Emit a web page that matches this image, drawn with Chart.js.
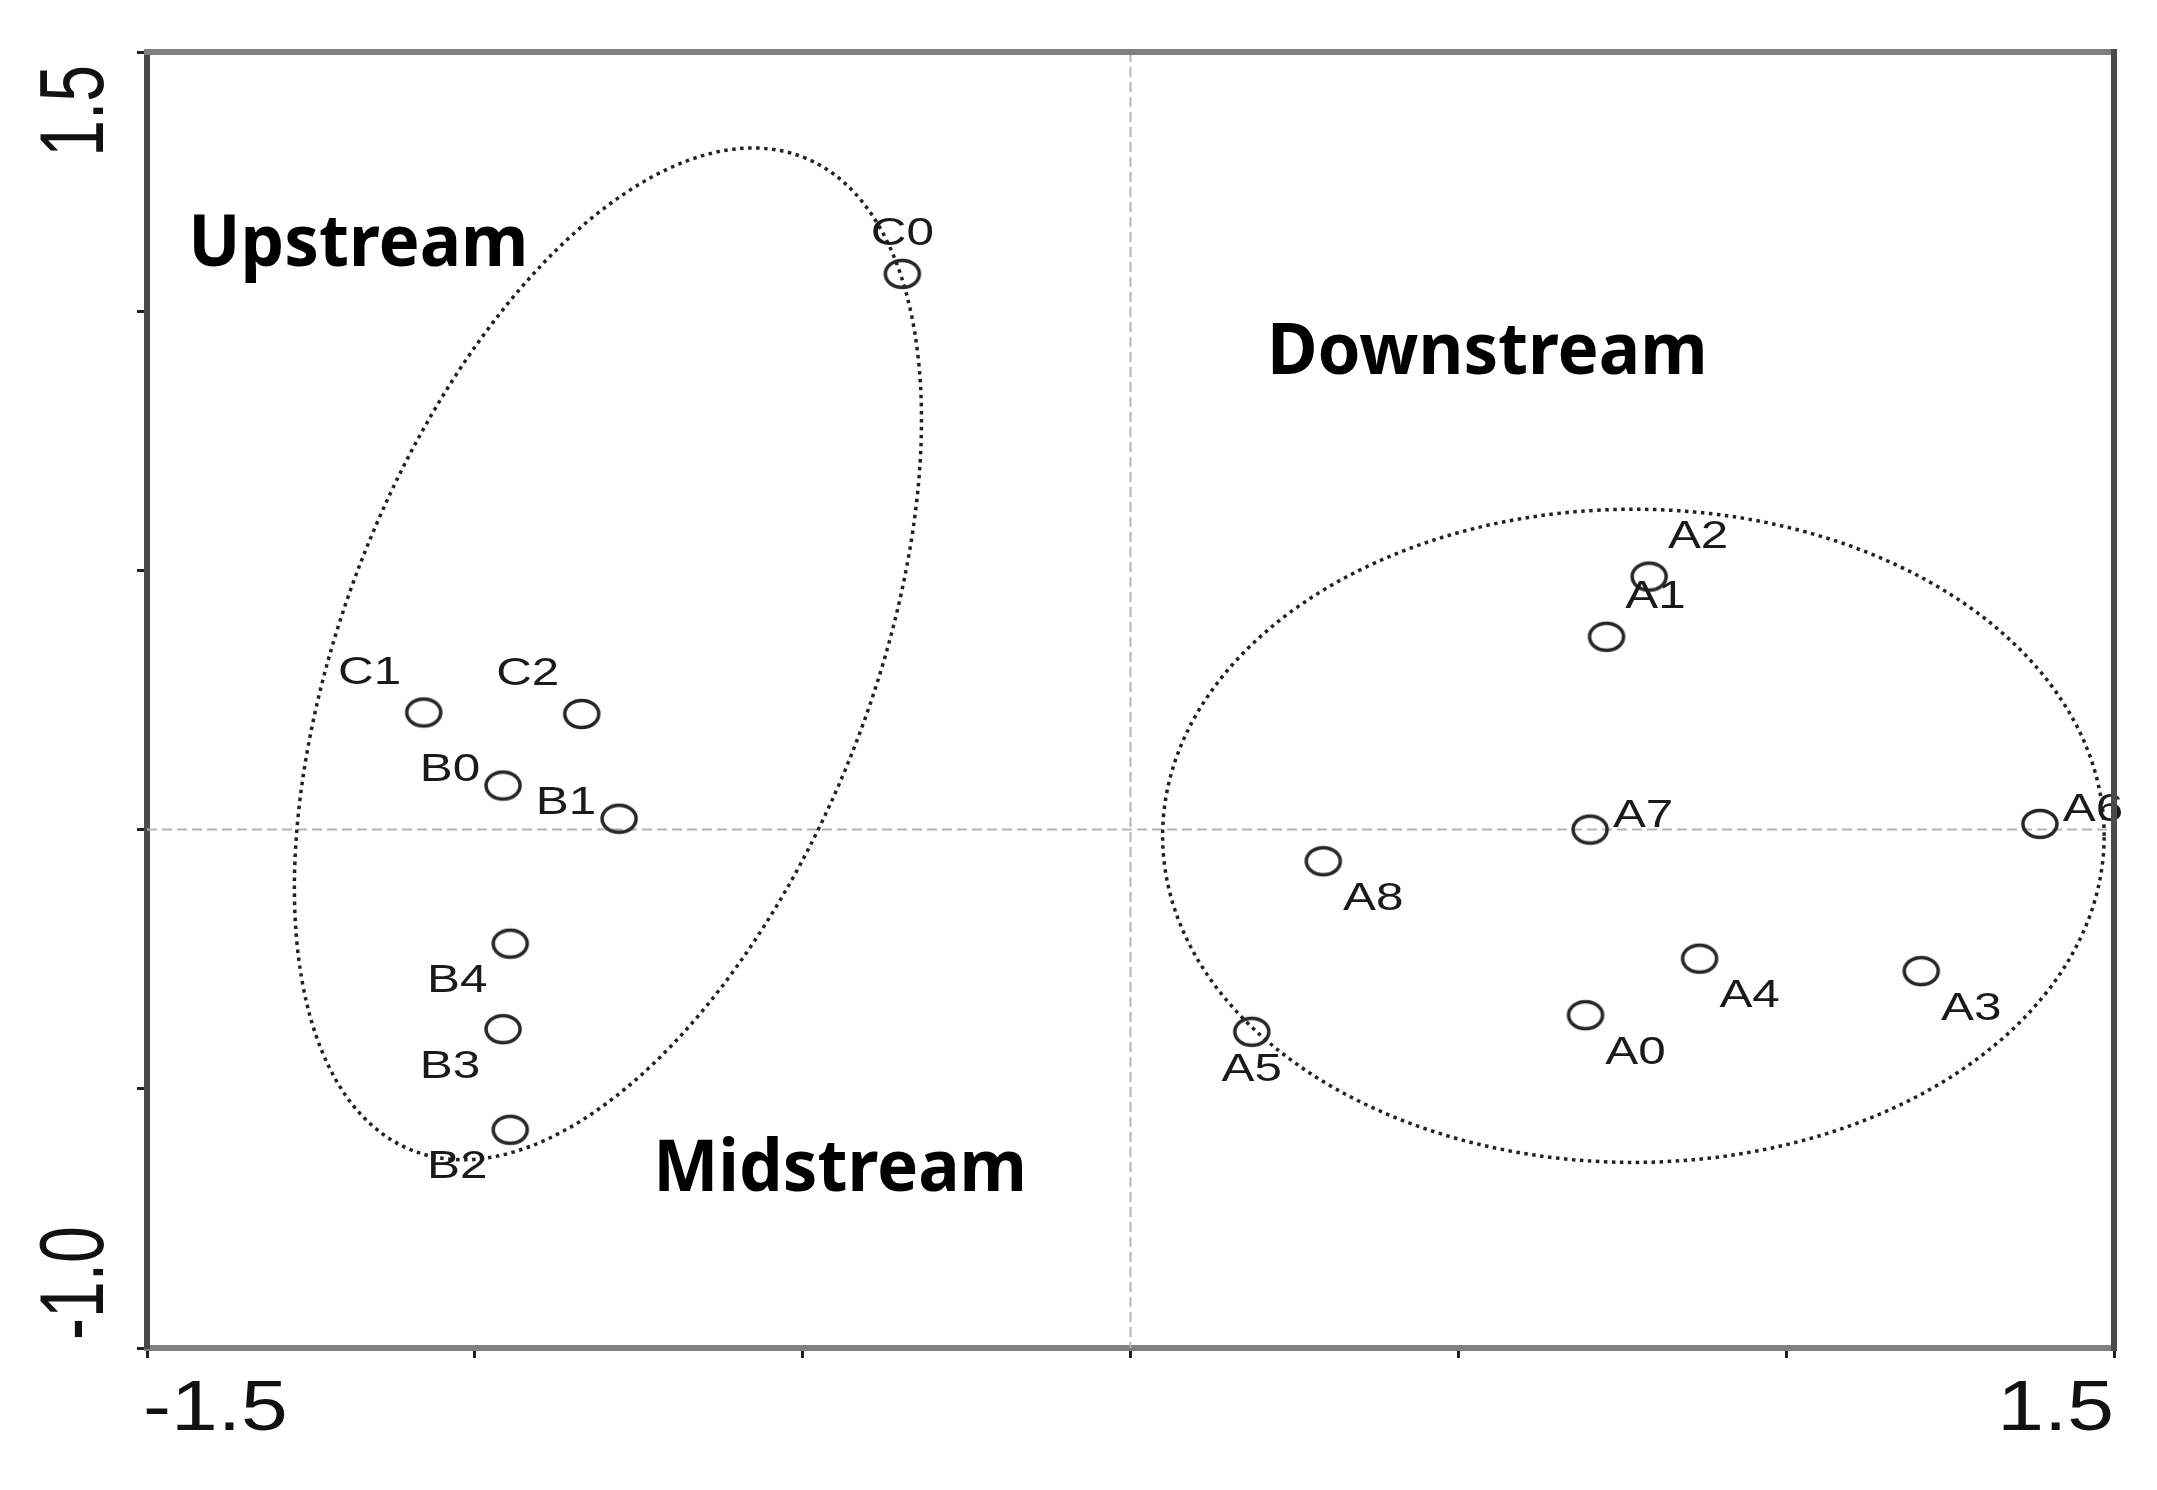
<!DOCTYPE html>
<html>
<head>
<meta charset="utf-8">
<script src="https://cdn.jsdelivr.net/npm/chart.js@4.4.1/dist/chart.umd.min.js"></script>
<style>
    html, body { margin: 0; padding: 0; background: #ffffff; }
</style>
</head>
<body>
<canvas id="ordinationChart" width="2157" height="1490"></canvas>
<script>
// site scores on the two ordination axes
const siteNames = ['C0', 'C1', 'C2', 'B0', 'B1', 'B4', 'B3', 'B2', 'A2', 'A1', 'A7', 'A6', 'A8', 'A4', 'A3', 'A0', 'A5'];
const axis1 = [-0.348, -1.078, -0.837, -0.957, -0.780, -0.946, -0.957, -0.946, 0.791, 0.726, 0.701, 1.387, 0.294, 0.868, 1.206, 0.694, 0.185];
const axis2 = [1.072, 0.226, 0.223, 0.085, 0.021, -0.220, -0.385, -0.579, 0.488, 0.372, 0.000, 0.011, -0.061, -0.249, -0.273, -0.358, -0.390];

// region titles
const regionNames = ['Upstream', 'Downstream', 'Midstream'];
const regionX = [-1.437, 0.208, -0.728];
const regionY = [1.088, 0.878, -0.698];

// group ellipses: centre and two conjugate semi-diameters, in axis units
const ellipseCenterX = [-0.797, 0.767];
const ellipseCenterY = [0.339, -0.012];
const ellipseU = [[0.298, 0.958], [0.718, 0.0]];
const ellipseV = [[0.374, -0.186], [0.0, 0.630]];

const xTickLabels = [-1.5, 1.5];
const yTickLabels = [1.5, -1.0];

// where each site label sits around its marker
const labelSide = ['N', 'NW', 'NW', 'W', 'W', 'SW', 'SW', 'SW', 'NE', 'NE', 'E', 'E', 'SE', 'SE', 'SE', 'SE', 'S'];
const sideOffset = {
    N: [0, -39], S: [0, 39],
    NW: [-54, -39], W: [-53, -15], SW: [-53, 38],
    NE: [49, -39], E: [53, -13], SE: [50, 38]
};

// open ring marker, a bit wider than tall like the original
const ring = document.createElement('canvas');
ring.width = 42;
ring.height = 34;
(function () {
    const c = ring.getContext('2d');
    c.strokeStyle = '#262626';
    c.lineWidth = 3.5;
    c.beginPath();
    c.ellipse(21, 17, 17, 13.5, 0, 0, Math.PI * 2);
    c.stroke();
})();

function stretchedText(ctx, text, px, py, opts) {
    ctx.save();
    ctx.translate(px, py);
    if (opts.rotate) ctx.rotate(opts.rotate);
    ctx.scale(opts.sx || 1, opts.sy || 1);
    ctx.font = opts.font;
    ctx.fillStyle = opts.color || '#111';
    ctx.textAlign = opts.align || 'center';
    ctx.textBaseline = opts.baseline || 'middle';
    ctx.fillText(text, 0, 0);
    ctx.restore();
}

const overlay = {
    id: 'overlay',
    beforeDatasetsDraw(chart) {
        const { ctx, chartArea: a, scales: { x, y } } = chart;
        ctx.save();

        // dashed zero lines
        const x0 = x.getPixelForValue(0);
        const y0 = y.getPixelForValue(0);
        ctx.strokeStyle = '#b4b4b4';
        ctx.lineWidth = 2;
        ctx.setLineDash([10, 5]);
        ctx.beginPath();
        ctx.moveTo(x0, a.top);
        ctx.lineTo(x0, a.bottom);
        ctx.moveTo(a.left, y0);
        ctx.lineTo(a.right, y0);
        ctx.stroke();

        // dotted group ellipses
        ctx.strokeStyle = '#222';
        ctx.lineWidth = 3.5;
        ctx.setLineDash([3.5, 4.5]);
        for (let i = 0; i < ellipseCenterX.length; i++) {
            const cx = x.getPixelForValue(ellipseCenterX[i]);
            const cy = y.getPixelForValue(ellipseCenterY[i]);
            const ux = x.getPixelForValue(ellipseCenterX[i] + ellipseU[i][0]) - cx;
            const uy = y.getPixelForValue(ellipseCenterY[i] + ellipseU[i][1]) - cy;
            const vx = x.getPixelForValue(ellipseCenterX[i] + ellipseV[i][0]) - cx;
            const vy = y.getPixelForValue(ellipseCenterY[i] + ellipseV[i][1]) - cy;
            ctx.save();
            ctx.transform(ux, uy, vx, vy, cx, cy);
            ctx.beginPath();
            ctx.arc(0, 0, 1, 0, Math.PI * 2);
            ctx.restore();
            ctx.stroke();
        }
        ctx.restore();
    },
    afterDatasetsDraw(chart) {
        const { ctx, scales: { x, y } } = chart;

        siteNames.forEach((name, i) => {
            const off = sideOffset[labelSide[i]];
            stretchedText(ctx, name, x.getPixelForValue(axis1[i]) + off[0], y.getPixelForValue(axis2[i]) + off[1], {
                font: '38px "Liberation Sans", Arial, sans-serif', sx: 1.3, color: '#1a1a1a'
            });
        });

        regionNames.forEach((name, i) => {
            stretchedText(ctx, name, x.getPixelForValue(regionX[i]), y.getPixelForValue(regionY[i]), {
                font: 'bold 72px "Noto Sans", sans-serif', sx: 0.96, align: 'left', baseline: 'alphabetic', color: '#000'
            });
        });
    },
    afterDraw(chart) {
        const { ctx, chartArea: a, scales: { x, y } } = chart;
        ctx.save();
        // top and right sides of the frame
        ctx.strokeStyle = '#7f7f7f';
        ctx.lineWidth = 6;
        ctx.beginPath();
        ctx.moveTo(a.left - 3, a.top);
        ctx.lineTo(a.right, a.top);
        ctx.stroke();
        ctx.strokeStyle = '#4a4a4a';
        ctx.beginPath();
        ctx.moveTo(a.right, a.top - 3);
        ctx.lineTo(a.right, a.bottom + 3);
        ctx.stroke();
        ctx.restore();

        // end labels of the axes
        const tickFont = '70px "Liberation Sans", Arial, sans-serif';
        xTickLabels.forEach((v, i) => {
            const px = x.getPixelForValue(v);
            stretchedText(ctx, v.toFixed(1), i === 0 ? px - 4 : px, a.bottom + 82, {
                font: tickFont, sx: 1.2, align: i === 0 ? 'left' : 'right', baseline: 'alphabetic'
            });
        });
        yTickLabels.forEach((v, i) => {
            const py = y.getPixelForValue(v);
            stretchedText(ctx, v.toFixed(1), a.left - 44, i === 0 ? py + 13 : py - 8, {
                font: '66px "Liberation Sans", Arial, sans-serif', rotate: -Math.PI / 2, sy: 1.38,
                align: i === 0 ? 'right' : 'left', baseline: 'alphabetic'
            });
        });
    }
};

new Chart(document.getElementById('ordinationChart'), {
    type: 'scatter',
    data: {
        datasets: [{
            label: 'Sites',
            data: siteNames.map((n, i) => ({ x: axis1[i], y: axis2[i] })),
            pointStyle: ring,
            pointRadius: 18,
            pointHoverRadius: 18
        }]
    },
    options: {
        responsive: false,
        animation: false,
        events: [],
        layout: { padding: { left: 147, top: 52, right: 43, bottom: 142 } },
        plugins: {
            legend: { display: false },
            tooltip: { enabled: false }
        },
        scales: {
            x: {
                type: 'linear',
                min: -1.5,
                max: 1.5,
                ticks: { stepSize: 0.5, display: false },
                grid: { drawOnChartArea: false, drawTicks: true, tickLength: 10, tickColor: '#222', tickWidth: 3 },
                border: { color: '#808080', width: 6 },
                afterFit: s => { s.height = 0; }
            },
            y: {
                type: 'linear',
                min: -1.0,
                max: 1.5,
                ticks: { stepSize: 0.5, display: false },
                grid: { drawOnChartArea: false, drawTicks: true, tickLength: 10, tickColor: '#222', tickWidth: 3 },
                border: { color: '#4a4a4a', width: 6 },
                afterFit: s => { s.width = 0; }
            }
        }
    },
    plugins: [overlay]
});
</script>
</body>
</html>
